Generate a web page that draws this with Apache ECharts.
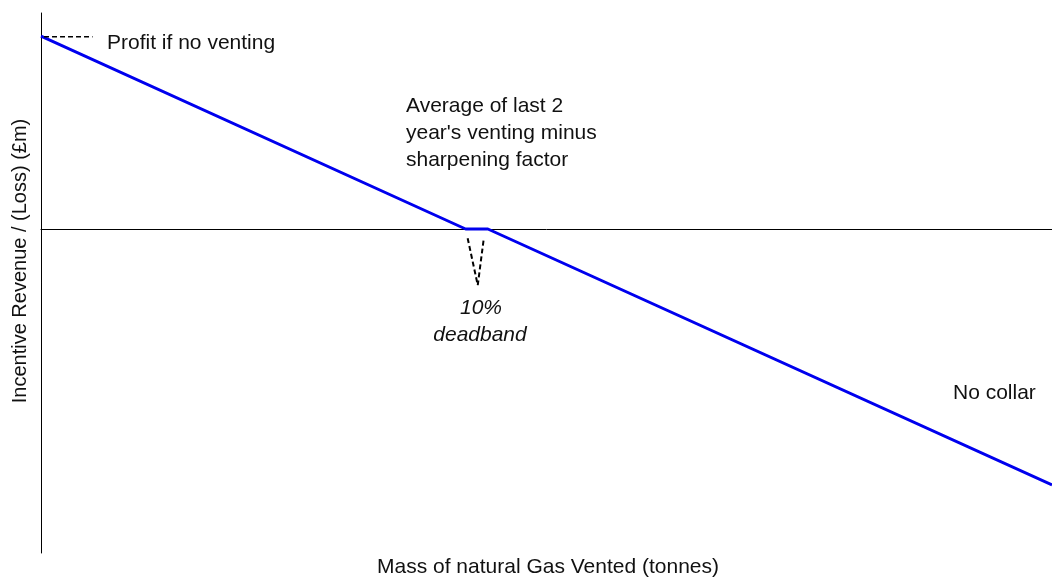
<!DOCTYPE html>
<html>
<head>
<meta charset="utf-8">
<script src="https://cdn.jsdelivr.net/npm/echarts@6/dist/echarts.min.js"></script>
<style>
html,body{margin:0;padding:0;background:#fff;}
#chart{width:1052px;height:583px;}
</style>
</head>
<body>
<div id="chart"></div>
<script>
// Mass vented (% of axis range) and incentive revenue (£m, relative units)
const ventedX = [0, 42.0, 44.2, 100];
const revenue = [35.7, 0, 0, -47.4];
// "Profit if no venting" dashed pointer
const profitX = [0.3, 5.1];
const profitY = [35.6, 35.6];
// 10% deadband dashed V pointer
const deadbandX = [42.2, 43.2, 43.8];
const deadbandY = [-1.7, -10.4, -1.7];

const zip = (a, b) => a.map((v, i) => [v, b[i]]);
const font = '"Liberation Sans", Arial, sans-serif';
const txt = '#111';

const chart = echarts.init(document.getElementById('chart'), null, {renderer: 'canvas'});
chart.setOption({
  animation: false,
  backgroundColor: '#fff',
  grid: {left: 41, right: 0, top: 13, bottom: 30, containLabel: false},
  xAxis: {
    type: 'value', min: 0, max: 100,
    axisLine: {onZero: true, lineStyle: {color: '#000', width: 1}},
    axisTick: {show: false}, axisLabel: {show: false}, splitLine: {show: false}
  },
  yAxis: {
    type: 'value', min: -60, max: 40,
    axisLine: {show: true, onZero: false, lineStyle: {color: '#000', width: 1}},
    axisTick: {show: false}, axisLabel: {show: false}, splitLine: {show: false}
  },
  series: [
    {
      type: 'line', data: zip(ventedX, revenue), symbol: 'none',
      lineStyle: {color: '#0000ee', width: 3}, z: 3
    },
    {
      type: 'line', data: zip(profitX, profitY), symbol: 'none',
      lineStyle: {color: '#000', width: 1.5, type: [5, 3]}
    },
    {
      type: 'line', data: zip(deadbandX, deadbandY), symbol: 'none',
      lineStyle: {color: '#000', width: 2, type: [5, 3]}
    }
  ],
  graphic: [
    {type: 'text', x: 107, y: 43, style: {text: 'Profit if no venting', font: '21px ' + font, fill: txt, verticalAlign: 'middle'}},
    {type: 'text', x: 406, y: 133, style: {text: "Average of last 2\nyear's venting minus\nsharpening factor", font: '21px ' + font, fill: txt, lineHeight: 27, verticalAlign: 'middle'}},
    {type: 'text', x: 481, y: 308, style: {text: '10%', font: 'italic 21px ' + font, fill: txt, align: 'center', verticalAlign: 'middle'}},
    {type: 'text', x: 480, y: 335, style: {text: 'deadband', font: 'italic 21px ' + font, fill: txt, align: 'center', verticalAlign: 'middle'}},
    {type: 'text', x: 953, y: 393, style: {text: 'No collar', font: '21px ' + font, fill: txt, verticalAlign: 'middle'}},
    {type: 'text', x: 548, y: 567, style: {text: 'Mass of natural Gas Vented (tonnes)', font: '21px ' + font, fill: txt, align: 'center', verticalAlign: 'middle'}},
    {type: 'text', x: 20, y: 261, rotation: Math.PI / 2, style: {text: 'Incentive Revenue / (Loss) (£m)', font: '20px ' + font, fill: txt, align: 'center', verticalAlign: 'middle'}}
  ]
});
</script>
</body>
</html>
